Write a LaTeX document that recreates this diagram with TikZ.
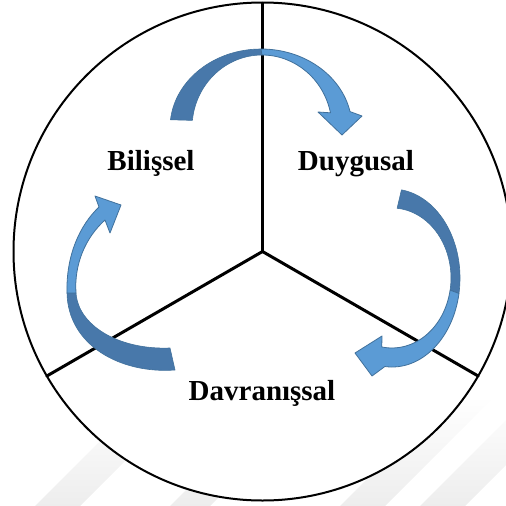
\documentclass[tikz,border=0pt]{standalone}
\usepackage{fontspec}
\setmainfont{Liberation Serif}
\definecolor{arrowlight}{RGB}{91,155,213}
\definecolor{arrowdark}{RGB}{72,120,170}
\definecolor{arrowedge}{RGB}{65,113,156}
\begin{document}
\begin{tikzpicture}[x=1pt,y=-1pt,
  lbl/.style={font=\fontsize{29}{34}\selectfont\bfseries, anchor=base, inner sep=0pt},
  spoke/.style={line width=3pt, black},
  rim/.style={line width=2pt, black, fill=white},
  backpart/.style={fill=arrowdark, draw=arrowedge, line width=0.6pt, line join=round},
  frontpart/.style={fill=arrowlight, draw=arrowedge, line width=0.8pt, line join=round}]
\useasboundingbox (0,0) rectangle (506,506);

% faint diagonal stripes in the lower part of the page
\begin{scope}
  \clip (0,400) rectangle (506,506);
  \shade[top color=white, bottom color=black!7]
    (35,506) -- ++(45,0) -- ++(110,-110) -- ++(-45,0) -- cycle
    (170,506) -- ++(40,0) -- ++(110,-110) -- ++(-40,0) -- cycle
    (340,506) -- ++(45,0) -- ++(110,-110) -- ++(-45,0) -- cycle
    (420,506) -- ++(45,0) -- ++(110,-110) -- ++(-45,0) -- cycle;
\end{scope}

% circle and the three spokes
\coordinate (ctr) at (262.5,251.5);
\draw[rim] (ctr) circle[radius=249];
\coordinate (rimtop)   at ([shift={(ctr)}]270:249);
\coordinate (rimleft)  at ([shift={(ctr)}]150:249);
\coordinate (rimright) at ([shift={(ctr)}]30:249);
\draw[spoke] (ctr) -- (rimtop);
\draw[spoke, line cap=round] (ctr) -- (rimleft);
\draw[spoke, line cap=round] (ctr) -- (rimright);

% labels
\node[lbl] (bil) at (151,170) {Bilişsel};
\node[lbl] (duy) at (356,170) {Duygusal};
\node[lbl] (dav) at (262,400) {Davranışsal};

% top arrow: Bilişsel -> Duygusal
\path[backpart]
  ([shift={(261,128)}]186:91 and 79) arc[start angle=186, end angle=270, x radius=91, y radius=79]
  -- ([shift={(262,128)}]270:70 and 73) arc[start angle=270, end angle=186, x radius=70, y radius=73]
  -- cycle;
\path[frontpart]
  ([shift={(261,128)}]270:91 and 79) arc[start angle=270, end angle=348, x radius=91, y radius=79]
  -- (362,116) -- (342,135) -- (318,112)
  -- ([shift={(262,128)}]348:70 and 73) arc[start angle=348, end angle=270, x radius=70, y radius=73]
  -- cycle;

% right arrow: Duygusal -> Davranışsal
\path[backpart]
  ([shift={(392,278)}]-82:68 and 89) arc[start angle=-82, end angle=10, x radius=68, y radius=89]
  -- ([shift={(392,278)}]10:59 and 70) arc[start angle=10, end angle=-85, x radius=59, y radius=70]
  -- cycle;
\path[frontpart]
  ([shift={(392,278)}]10:68 and 89) arc[start angle=10, end angle=96, x radius=68, y radius=89]
  -- (372,376) -- (355,353) -- (382,336)
  -- ([shift={(392,278)}]100:59 and 70) arc[start angle=100, end angle=10, x radius=59, y radius=70]
  -- cycle;

% left arrow: Davranışsal -> Bilişsel
\path[backpart]
  (175,370) .. controls (120,374) and (68,345) .. (67,293)
  -- (76,293) .. controls (78,325) and (118,350) .. (170,348)
  -- cycle;
\path[frontpart]
  (67,293) .. controls (66,255) and (80,225) .. (99,207)
  -- (95,196) -- (121,205) -- (110,233) -- (105,220)
  .. controls (85,238) and (74,265) .. (76,293)
  -- cycle;
\end{tikzpicture}
\end{document}
